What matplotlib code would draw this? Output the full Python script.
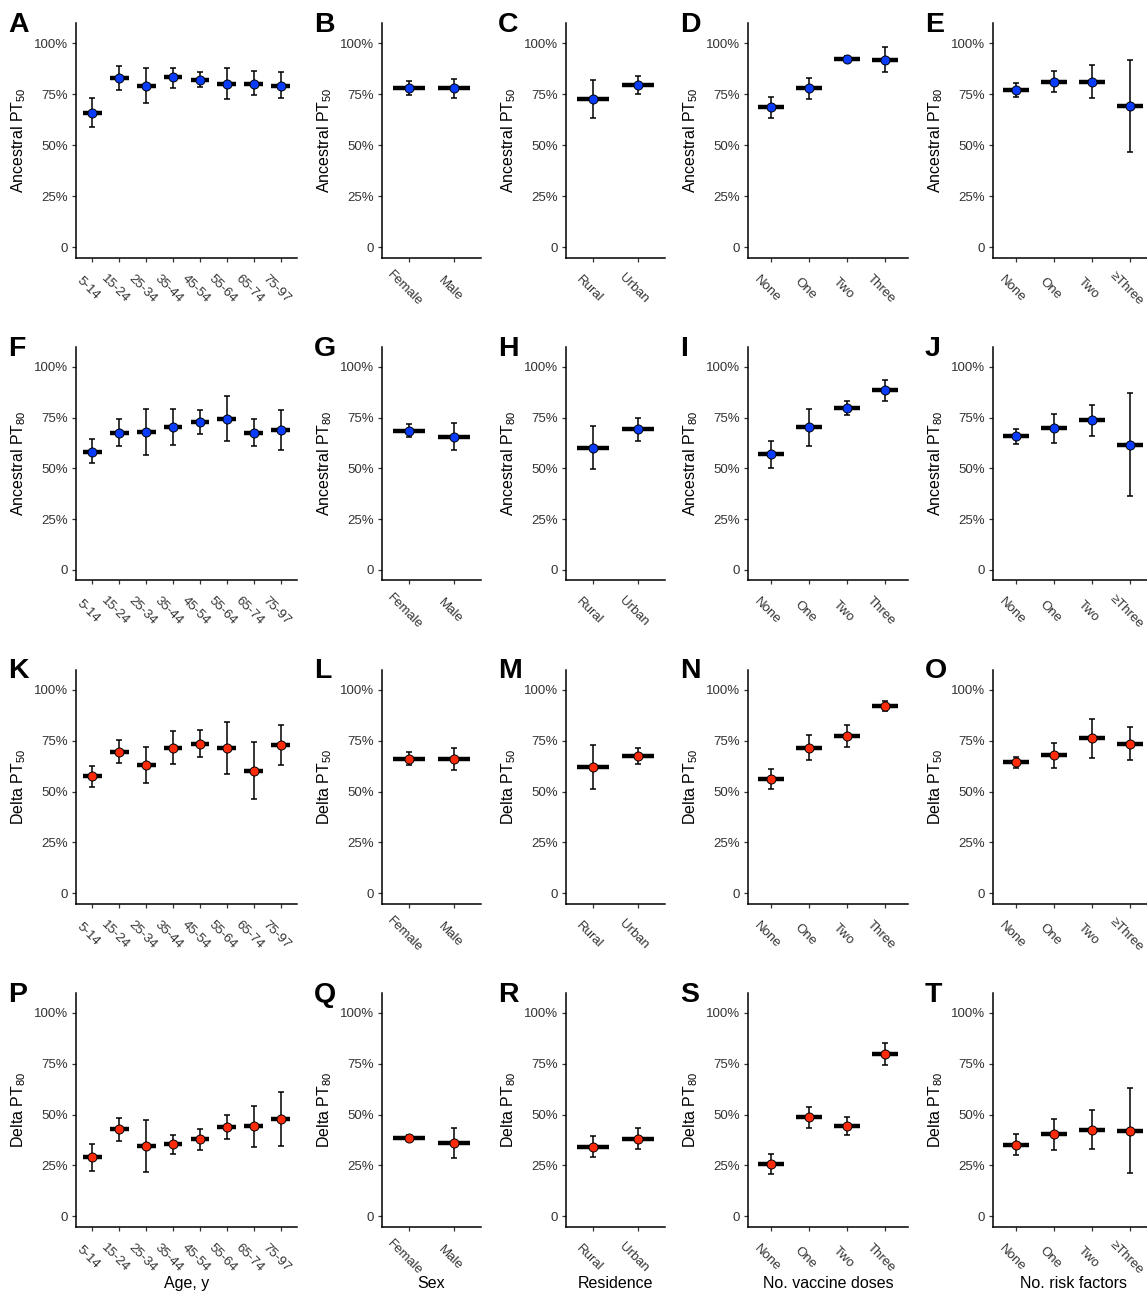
import numpy as np
import matplotlib
matplotlib.use('Agg')
import matplotlib.pyplot as plt
import matplotlib.transforms as mtransforms

plt.rcParams['font.family'] = ['Liberation Sans', 'DejaVu Sans']
plt.rcParams['mathtext.fontset'] = 'custom'
plt.rcParams['mathtext.rm'] = 'Liberation Sans'
plt.rcParams['mathtext.it'] = 'Liberation Sans'
plt.rcParams['mathtext.default'] = 'regular'

# categories
age_cats = ['5-14', '15-24', '25-34', '35-44', '45-54', '55-64', '65-74', '75-97']
sex_cats = ['Female', 'Male']
res_cats = ['Rural', 'Urban']
dose_cats = ['None', 'One', 'Two', 'Three']
risk_cats = ['None', 'One', 'Two', '≥Three']

# estimates and 95% CI (percent)
A_est = [66.1, 83.0, 79.2, 83.3, 82.2, 80.2, 80.2, 79.2]
A_lo = [59.1, 76.9, 71.0, 78.2, 78.6, 72.7, 74.5, 73.2]
A_hi = [73.3, 88.7, 87.9, 88.1, 85.9, 87.9, 86.3, 85.8]
B_est = [78.1, 77.9]
B_lo = [74.6, 73.3]
B_hi = [81.8, 82.7]
C_est = [72.7, 79.7]
C_lo = [63.2, 75.1]
C_hi = [82.2, 84.1]
D_est = [68.6, 77.9, 92.5, 92.0]
D_lo = [63.2, 72.8, 91.3, 85.8]
D_hi = [73.6, 82.8, 93.6, 98.2]
E_est = [76.9, 81.3, 81.3, 69.4]
E_lo = [73.5, 76.3, 73.3, 46.5]
E_hi = [80.4, 86.7, 89.4, 92.1]

F_est = [58.2, 67.4, 67.9, 70.2, 72.8, 74.4, 67.4, 68.9]
F_lo = [52.5, 60.8, 56.7, 61.6, 67.0, 63.4, 61.0, 59.0]
F_hi = [64.3, 74.3, 79.2, 79.0, 78.5, 85.6, 74.1, 78.7]
G_est = [68.5, 65.6]
G_lo = [65.2, 59.2]
G_hi = [71.6, 72.3]
H_est = [60.2, 69.2]
H_lo = [49.5, 63.6]
H_hi = [70.8, 74.6]
I_est = [56.9, 70.2, 79.8, 88.5]
I_lo = [50.2, 61.1, 76.4, 83.4]
I_hi = [63.6, 79.3, 83.1, 93.4]
J_est = [65.7, 69.7, 73.6, 61.5]
J_lo = [61.8, 62.3, 66.1, 36.4]
J_hi = [69.5, 77.0, 81.0, 86.9]

K_est = [57.7, 69.7, 63.3, 71.6, 73.6, 71.3, 60.3, 73.1]
K_lo = [52.3, 63.9, 54.1, 63.6, 67.0, 58.7, 46.4, 63.3]
K_hi = [62.8, 75.2, 72.1, 79.8, 80.2, 84.1, 74.3, 82.8]
L_est = [66.2, 66.0]
L_lo = [63.2, 60.8]
L_hi = [69.3, 71.2]
M_est = [61.9, 67.5]
M_lo = [51.1, 63.4]
M_hi = [73.0, 71.6]
N_est = [56.4, 71.6, 77.2, 92.0]
N_lo = [51.5, 65.4, 72.1, 89.5]
N_hi = [61.1, 77.9, 82.5, 94.6]
O_est = [64.4, 67.9, 76.2, 73.6]
O_lo = [61.6, 61.8, 66.6, 65.7]
O_hi = [67.0, 73.9, 85.9, 81.6]

P_est = [29.0, 42.8, 34.8, 35.4, 37.9, 43.9, 44.3, 47.9]
P_lo = [22.5, 36.9, 22.0, 30.8, 32.5, 37.9, 34.3, 34.8]
P_hi = [35.4, 48.5, 47.5, 40.0, 43.0, 50.0, 54.3, 61.0]
Q_est = [38.3, 36.0]
Q_lo = [37.0, 28.6]
Q_hi = [39.8, 43.3]
R_est = [34.0, 38.0]
R_lo = [29.0, 33.0]
R_hi = [39.4, 43.3]
S_est = [25.9, 48.9, 44.3, 79.8]
S_lo = [20.8, 43.6, 39.8, 74.6]
S_hi = [30.8, 53.9, 48.9, 85.2]
T_est = [35.2, 40.3, 42.6, 42.0]
T_lo = [30.0, 32.5, 33.0, 21.1]
T_hi = [40.3, 47.9, 52.5, 63.0]

col_cats = [age_cats, sex_cats, res_cats, dose_cats, risk_cats]
col_titles = ['Age, y', 'Sex', 'Residence', 'No. vaccine doses', 'No. risk factors']

rows = [
    ('ABCDE', [(A_est, A_lo, A_hi), (B_est, B_lo, B_hi), (C_est, C_lo, C_hi), (D_est, D_lo, D_hi), (E_est, E_lo, E_hi)],
     ['Ancestral PT$_{50}$'] * 4 + ['Ancestral PT$_{80}$'], '#0A3CFF'),
    ('FGHIJ', [(F_est, F_lo, F_hi), (G_est, G_lo, G_hi), (H_est, H_lo, H_hi), (I_est, I_lo, I_hi), (J_est, J_lo, J_hi)],
     ['Ancestral PT$_{80}$'] * 5, '#0A3CFF'),
    ('KLMNO', [(K_est, K_lo, K_hi), (L_est, L_lo, L_hi), (M_est, M_lo, M_hi), (N_est, N_lo, N_hi), (O_est, O_lo, O_hi)],
     ['Delta PT$_{50}$'] * 5, '#FF2B0A'),
    ('PQRST', [(P_est, P_lo, P_hi), (Q_est, Q_lo, Q_hi), (R_est, R_lo, R_hi), (S_est, S_lo, S_hi), (T_est, T_lo, T_hi)],
     ['Delta PT$_{80}$'] * 5, '#FF2B0A'),
]

W, H = 1147, 1297
fig = plt.figure(figsize=(W / 100, H / 100), dpi=100)

# axes frames in pixels
col_lr = [(76, 297), (382, 481), (566, 665), (748, 908), (993, 1153)]
row_tb = [(23, 257.5), (346.5, 580), (669.5, 903.5), (992.5, 1226.5)]

grey = '#333333'
for r, (letters, panels, ylabels, color) in enumerate(rows):
    top, bottom = row_tb[r]
    for c in range(5):
        left, right = col_lr[c]
        ax = fig.add_axes([left / W, 1 - bottom / H, (right - left) / W, (bottom - top) / H])
        est, lo, hi = [np.array(v) / 100 for v in panels[c]]
        cats = col_cats[c]
        x = np.arange(len(cats))
        ax.hlines(est, x - 0.35, x + 0.35, color='black', lw=3.2, zorder=2)
        ax.errorbar(x, est, yerr=[est - lo, hi - est], fmt='none', ecolor='black',
                    elinewidth=1.1, capsize=2.2, capthick=1.1, zorder=3)
        ax.plot(x, est, 'o', ms=6.5, mfc=color, mec='black', mew=0.7, zorder=4)

        ax.set_xlim(-0.6, len(cats) - 0.4)
        ax.set_ylim(-0.05, 1.10)
        ax.set_yticks([0, 0.25, 0.5, 0.75, 1.0])
        ax.set_yticklabels(['0', '25%', '50%', '75%', '100%'])
        ax.set_xticks(x)
        ax.set_xticklabels(cats, rotation=-45, ha='center', va='center', rotation_mode='anchor')
        for sp in ['top', 'right']:
            ax.spines[sp].set_visible(False)
        for sp in ['left', 'bottom']:
            ax.spines[sp].set_linewidth(1.1)
        ax.tick_params(axis='both', length=3, width=0.9, color='#333333', labelcolor=grey, labelsize=9.5)
        ax.tick_params(axis='y', pad=3)
        ax.tick_params(axis='x', pad=19.5)
        shift = mtransforms.ScaledTranslation(-4 / 100, 0, fig.dpi_scale_trans)
        for lbl in ax.get_xticklabels():
            lbl.set_transform(lbl.get_transform() + shift)

        ax.set_ylabel(ylabels[c], fontsize=11.5, color='black')
        ax.yaxis.set_label_coords(-48 / (right - left), 0.5)
        if r == 3:
            ax.set_xlabel(col_titles[c], fontsize=11.5, color='black')
            ax.xaxis.set_label_coords(0.5, -(1276 - bottom) / (bottom - top))

        fig.text((left - 68) / W, 1 - (top + 9) / H, letters[c], fontsize=20.5,
                 fontweight='bold', ha='left', va='baseline')

fig.savefig('out.png', dpi=100)
